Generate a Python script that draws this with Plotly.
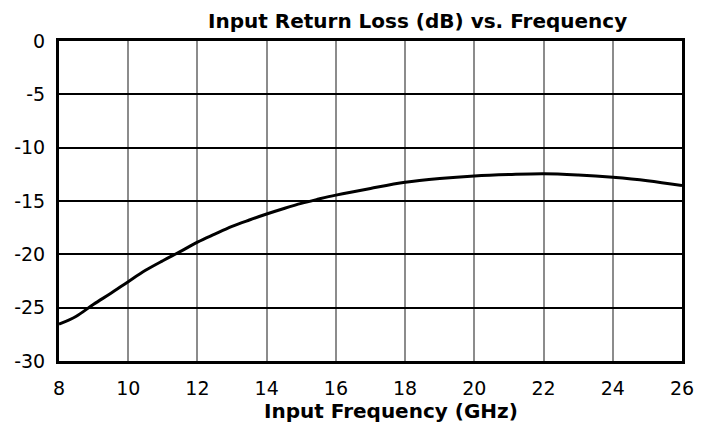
import plotly.graph_objects as go

freq_ghz = [8, 8.5, 9, 9.5, 10, 10.5, 11, 11.5, 12, 12.5, 13, 13.5, 14, 14.5, 15, 15.5, 16, 17, 18, 19, 20, 21, 22, 23, 24, 25, 26]
return_loss_db = [-26.55, -25.8, -24.68, -23.65, -22.56, -21.5, -20.6, -19.75, -18.85, -18.1, -17.38, -16.78, -16.22, -15.7, -15.22, -14.82, -14.45, -13.82, -13.25, -12.9, -12.66, -12.52, -12.44, -12.56, -12.78, -13.1, -13.56]
x_ticks = [8, 10, 12, 14, 16, 18, 20, 22, 24, 26]
y_ticks = [0, -5, -10, -15, -20, -25, -30]

font = "DejaVu Sans"

fig = go.Figure()
fig.add_trace(go.Scatter(x=freq_ghz, y=return_loss_db, mode="lines",
                         line=dict(color="black", width=3, shape="spline", smoothing=1.0),
                         showlegend=False, hoverinfo="skip"))

fig.update_layout(
    width=708, height=416,
    margin=dict(l=51, r=34, t=33, b=63),
    paper_bgcolor="white", plot_bgcolor="white",
    font=dict(family=font, size=19, color="black"),
    annotations=[
        dict(text="<b>Input Return Loss (dB) vs. Frequency</b>", xref="paper", yref="paper",
             x=0.5755, y=1, xanchor="center", yanchor="bottom", yshift=6,
             showarrow=False, font=dict(family=font, size=20, color="black")),
        dict(text="<b>Input Frequency (GHz)</b>", xref="paper", yref="paper",
             x=0.533, y=0, xanchor="center", yanchor="top", yshift=-36,
             showarrow=False, font=dict(family=font, size=20, color="black")),
    ],
)
fig.update_xaxes(range=[8, 26], tickvals=x_ticks, ticktext=[str(v) for v in x_ticks],
                 showgrid=True, gridcolor="#8c8c8c", gridwidth=1.5, automargin=False,
                 showline=True, linecolor="black", linewidth=3, mirror=True,
                 ticks="", zeroline=False, ticklabelstandoff=8)
fig.update_yaxes(range=[-30, 0], tickvals=y_ticks, ticktext=[str(v) for v in y_ticks],
                 showgrid=True, gridcolor="black", gridwidth=1.5, automargin=False,
                 showline=True, linecolor="black", linewidth=3, mirror=True,
                 ticks="", zeroline=False, ticklabelstandoff=7)

fig.write_html("out.html")
